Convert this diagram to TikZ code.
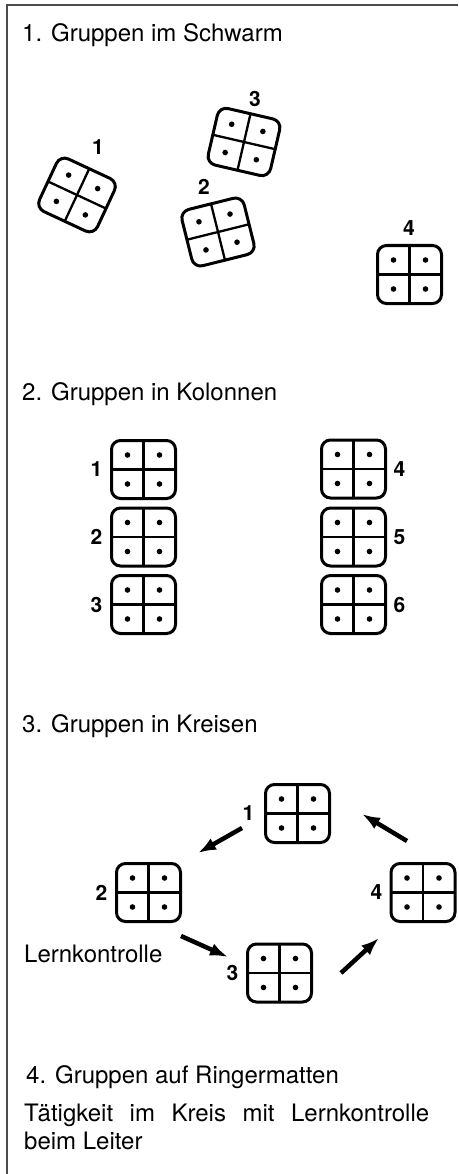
\documentclass[tikz,border=0pt]{standalone}
\usepackage{fontspec}
\setmainfont{TeX Gyre Heros}
\usepackage{tikz}
\usetikzlibrary{positioning}
\usetikzlibrary{calc}
\usetikzlibrary{arrows.meta}
\tikzset{
    gruppe/.style={draw, line width=3pt, rounded corners=9pt,
          minimum width=64pt, minimum height=58pt,
          inner sep=0pt, outer sep=0pt},
    kreuz/.style={line width=2.3pt},
    nummer/.style={inner sep=0pt, font=\bfseries\fontsize{21}{21}\selectfont},
    titel/.style={anchor=base west, inner sep=0pt, font=\fontsize{24}{28}\selectfont},
    pfeil/.style={line width=4.5pt, -{Latex[length=18pt,width=13pt]}},
    rahmen/.style={line width=2pt, black!70},
}
% Kreuz und vier Punkte in eine Matte
\newcommand\matte[1]{%
    \draw[kreuz] (#1.north) -- (#1.south) (#1.west) -- (#1.east);
    \foreach \ecke in {north west,north east,south west,south east}
        \fill ($(#1.center)!0.5!(#1.\ecke)$) circle[radius=2.8];
}

\begin{document}
\begin{tikzpicture}[x=1pt,y=-1pt]
    \useasboundingbox (0,0) rectangle (458,1174);
    \draw[rahmen] (7,1174) -- (7,5) -- (458,5);

    % 1. Schwarm
    \node[titel] (t1) at (22,42) {1. Gruppen im Schwarm};
    \node[gruppe,rotate=-25] (s1) at (77,195) {};
    \node[gruppe,rotate=14]  (s2) at (218,232) {};
    \node[gruppe,rotate=-13] (s3) at (244,142) {};
    \node[gruppe]            (s4) at (409.5,274.5) {};
    \foreach \g in {s1,s2,s3,s4} {\matte{\g}}
    \node[nummer] (sn1) at (98,147) {1};
    \node[nummer] (sn2) at (204,187) {2};
    \node[nummer] (sn3) at (255,99) {3};
    \node[nummer] (sn4) at (409,228) {4};

    % 2. Kolonnen
    \node[titel] (t2) at (22,400) {2. Gruppen in Kolonnen};
    \foreach \n/\y in {1/469.5,2/537,3/604.5} {
        \node[gruppe] (k\n) at (143.5,\y) {};
        \matte{k\n}
        \node[nummer,left=9pt of k\n] (kn\n) {\n};
    }
    \foreach \n/\y in {4/469,5/537,6/604.5} {
        \node[gruppe] (k\n) at (353.5,\y) {};
        \matte{k\n}
        \node[nummer,right=8pt of k\n] (kn\n) {\n};
    }

    % 3. Kreise
    \node[titel] (t3) at (22,732) {3. Gruppen in Kreisen};
    \node[gruppe] (r1) at (297.5,813.5) {};
    \node[gruppe] (r2) at (148.5,892.5) {};
    \node[gruppe] (r3) at (279.5,973) {};
    \node[gruppe] (r4) at (423,892.5) {};
    \foreach \g in {r1,r2,r3,r4} {\matte{\g}}
    \node[nummer,left=11pt of r1] (rn1) {1};
    \node[nummer,left=9pt of r2] (rn2) {2};
    \node[nummer,left=9pt of r3] (rn3) {3};
    \node[nummer,left=8.5pt of r4] (rn4) {4};
    \node[titel] (lk) at (24,962) {Lernkontrolle};

    \coordinate (p1a) at (242,828);  \coordinate (p1b) at (198,853);
    \coordinate (p2a) at (181,936);  \coordinate (p2b) at (228,957);
    \coordinate (p3a) at (341,973);  \coordinate (p3b) at (379,938);
    \coordinate (p4a) at (407,841);  \coordinate (p4b) at (362,814);
    \draw[pfeil] (p1a) -- (p1b);
    \draw[pfeil] (p2a) -- (p2b);
    \draw[pfeil] (p3a) -- (p3b);
    \draw[pfeil] (p4a) -- (p4b);

    % 4. Ringermatten
    \node[titel] (t4) at (26,1083) {4. Gruppen auf Ringermatten};
    \node[titel] (z1) at (24,1121) {\makebox[405pt][s]{Tätigkeit im Kreis mit Lernkontrolle}};
    \node[titel] (z2) at (24,1149) {beim Leiter};
\end{tikzpicture}
\end{document}
